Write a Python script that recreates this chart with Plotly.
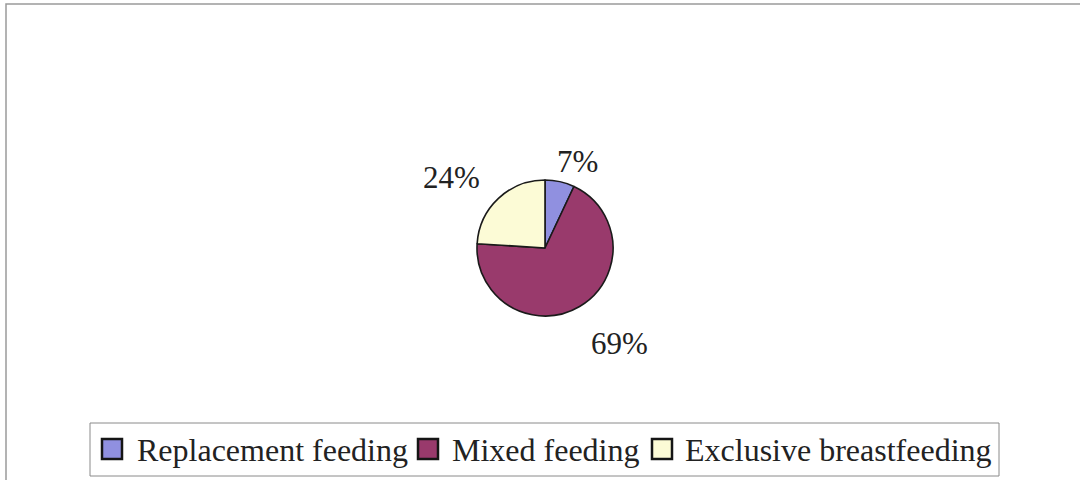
import plotly.graph_objects as go

# Infant feeding practice shares (percent)
categories = ["Replacement feeding", "Mixed feeding", "Exclusive breastfeeding"]
shares = [7, 69, 24]
slice_colors = ["#9090E0", "#993A6C", "#FCFBD6"]

W, H = 1080, 480
FONT = "Liberation Serif"
INK = "#222222"


def px(x):
    return x / W


def py(y):
    return (H - y) / H


# pie centre and radius in pixels, converted to paper domain
cx, cy, r = 545, 248, 68

fig = go.Figure(
    go.Pie(
        labels=categories,
        values=shares,
        sort=False,
        direction="clockwise",
        rotation=0,
        marker=dict(colors=slice_colors, line=dict(color="#1a1a1a", width=1.6)),
        textinfo="none",
        domain=dict(x=[px(cx - r), px(cx + r)], y=[py(cy + r), py(cy - r)]),
        hoverinfo="label+percent",
        showlegend=False,
    )
)

annotations = []
shapes = []

# percentage labels placed around the pie (same order as the slices)
label_pos = [(577, 161), (619, 343), (451, 177)]
for v, (lx, ly) in zip(shares, label_pos):
    annotations.append(
        dict(
            text=f"{v}%",
            x=px(lx), y=py(ly), xref="paper", yref="paper",
            xanchor="center", yanchor="middle", showarrow=False,
            font=dict(family=FONT, size=31, color=INK),
        )
    )

# legend box with swatches
shapes.append(
    dict(type="rect", xref="paper", yref="paper",
         x0=px(90), x1=px(999), y0=py(476), y1=py(423),
         line=dict(color="#8a8a8a", width=1), fillcolor="white", layer="below")
)
swatch_x = [102, 418, 652]
text_x = [135, 450, 683]
sw = 20
sy = 449
for name, col, sx, tx in zip(categories, slice_colors, swatch_x, text_x):
    shapes.append(
        dict(type="rect", xref="paper", yref="paper",
             x0=px(sx), x1=px(sx + sw), y0=py(sy + sw / 2), y1=py(sy - sw / 2),
             line=dict(color="#151515", width=2.5), fillcolor=col)
    )
    annotations.append(
        dict(text=name, x=px(tx), y=py(450), xref="paper", yref="paper",
             xanchor="left", yanchor="middle", showarrow=False,
             font=dict(family=FONT, size=32, color=INK))
    )

# outer frame
shapes.append(
    dict(type="rect", xref="paper", yref="paper",
         x0=px(6), x1=1.02, y0=-0.02, y1=py(4),
         line=dict(color="#9a9a9a", width=1.5), fillcolor="rgba(0,0,0,0)",
         layer="below")
)

fig.update_layout(
    width=W,
    height=H,
    margin=dict(l=0, r=0, t=0, b=0),
    paper_bgcolor="white",
    plot_bgcolor="white",
    showlegend=False,
    annotations=annotations,
    shapes=shapes,
)

fig.write_html("out.html")
